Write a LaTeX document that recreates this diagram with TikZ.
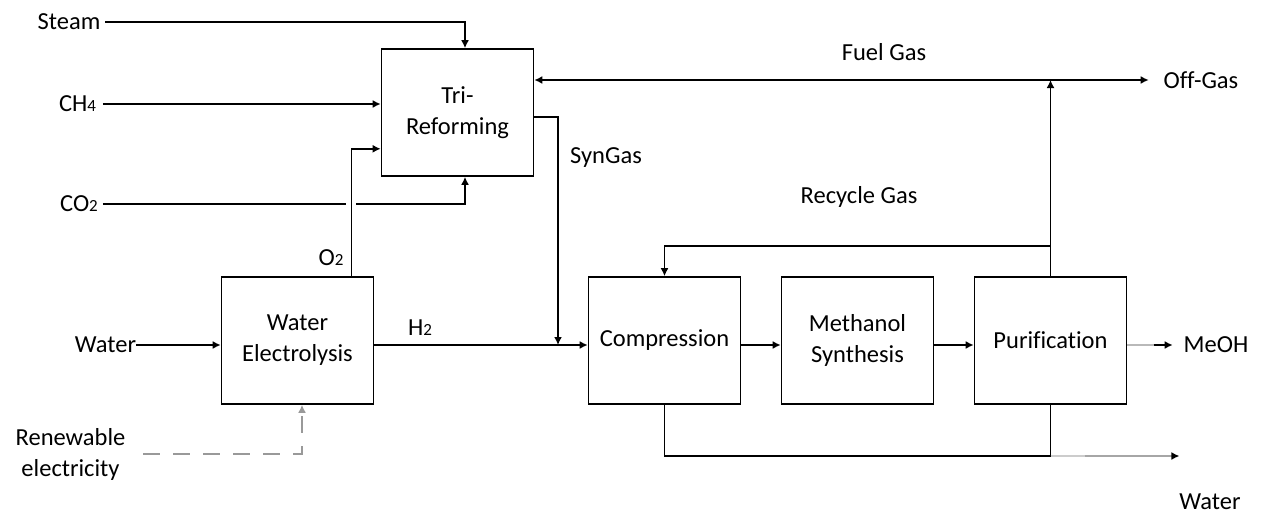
\documentclass[tikz,border=0pt]{standalone}
\usepackage{fontspec}
\setmainfont{Carlito}[Ligatures=NoCommon]
\usepackage{tikz}
\usetikzlibrary{arrows.meta,positioning,calc}
\newcommand{\smalldigit}[1]{{\fontsize{17}{17}\selectfont #1}}
\tikzset{
  unit/.style={draw, line width=1.6pt, minimum width=152pt, minimum height=127pt,
               align=center, inner sep=0pt},
  pipe/.style={line width=1.6pt},
  flow/.style={pipe, -{Latex[length=8pt,width=8pt]}},
  lbl/.style={inner sep=0pt, outer sep=0pt, align=center},
  power/.style={flow, gray!80, dash pattern=on 17pt off 13pt},
}

\begin{document}
\begin{tikzpicture}[x=1pt, y=-1pt, font=\fontsize{24.5}{31}\selectfont]
  \useasboundingbox (0,0) rectangle (1266,517);
  % process units
  \node[unit] (tri)  at (457.5,112.5) {Tri-\\Reforming};
  \node[unit] (elec) at (297.5,340.5) {Water\\Electrolysis};
  \node[unit] (comp) at (664.5,340.5) {Compression};
  \node[unit] (meth) at (857.5,340.5) {Methanol\\Synthesis};
  \node[unit] (puri) at (1050.5,340.5) {Purification};
  % stream labels
  \node[lbl] (steam)    at (69,22)     {Steam};
  \node[lbl] (ch4)      at (77.5,104)  {CH\smalldigit{4}};
  \node[lbl] (co2)      at (79,204)    {CO\smalldigit{2}};
  \node[lbl] (waterin)  at (105.5,345) {Water};
  \node[lbl] (renew)    at (70.5,454)  {Renewable\\electricity};
  \node[lbl] (o2lbl)    at (331,258)   {O\smalldigit{2}};
  \node[lbl] (h2lbl)    at (420,328)   {H\smalldigit{2}};
  \node[lbl] (synlbl)   at (606,158)   {SynGas};
  \node[lbl] (fuellbl)  at (884,52)    {Fuel Gas};
  \node[lbl] (recyclbl) at (859,197)   {Recycle Gas};
  \node[lbl] (offgas)   at (1201,80)   {Off-Gas};
  \node[lbl] (meoh)     at (1216,345)  {MeOH};
  \node[lbl] (waterout) at (1210,502)  {Water};
  % helper rows and junctions
  \coordinate (fuelrow)  at (0,80);
  \coordinate (recrow)   at (0,246);
  \coordinate (h2row)    at (0,345);
  \coordinate (waterrow) at (0,456);
  \coordinate (o2up)  at ([xshift=-23pt]elec.north east);
  \coordinate (fuelj) at (puri.north |- fuelrow);
  \coordinate (recj)  at (puri.north |- recrow);
  \coordinate (synj)  at (558,345);
  \coordinate (wj)    at (puri.south |- waterrow);
  % feeds to the reformer
  \draw[flow] ([xshift=5pt]steam.east) -| ([xshift=7.5pt]tri.north);
  \draw[flow] ([xshift=7pt]ch4.east) -- (ch4.east -| tri.west);
  \draw[pipe] ([xshift=5pt]co2.east) -- ([xshift=-5pt]o2up |- co2.east);
  \draw[flow] ([xshift=5pt]o2up |- co2.east) -| ([xshift=7.5pt]tri.south);
  \draw[flow] (o2up) |- ([yshift=28pt]tri.south west);
  % electrolysis
  \draw[flow] (waterin.east) -- (waterin.east -| elec.west);
  \draw[power] ([xshift=18pt]renew.east) -| ([xshift=4.5pt]elec.south);
  \draw[flow] (elec.east |- h2row) -- (comp.west |- h2row);
  \draw[flow] ([yshift=-4.5pt]tri.east) -| (synj);
  % synthesis loop
  \draw[flow] (comp.east |- h2row) -- (meth.west |- h2row);
  \draw[flow] (meth.east |- h2row) -- (puri.west |- h2row);
  \draw[flow] (puri.north) -- (fuelj);
  \draw[flow] (fuelj) -- (fuelj -| tri.east);
  \draw[flow] (fuelj) -- ([xshift=-15pt]offgas.west);
  \draw[flow] (recj) -| (comp.north);
  % products
  \draw[pipe, gray!55] (puri.east |- h2row) -- ([xshift=-30pt]meoh.west |- h2row);
  \draw[flow] ([xshift=-30pt]meoh.west |- h2row) -- ([xshift=-11pt]meoh.west |- h2row);
  \draw[pipe] (comp.south) |- (wj);
  \draw[pipe] (puri.south) -- (wj);
  \draw[pipe, gray!40] (wj) -- ++(34,0) coordinate (wmid);
  \draw[flow, gray!70, -{Latex[black,length=8pt,width=8pt]}] (wmid) -- (wj -| waterout.west);
\end{tikzpicture}
\end{document}
